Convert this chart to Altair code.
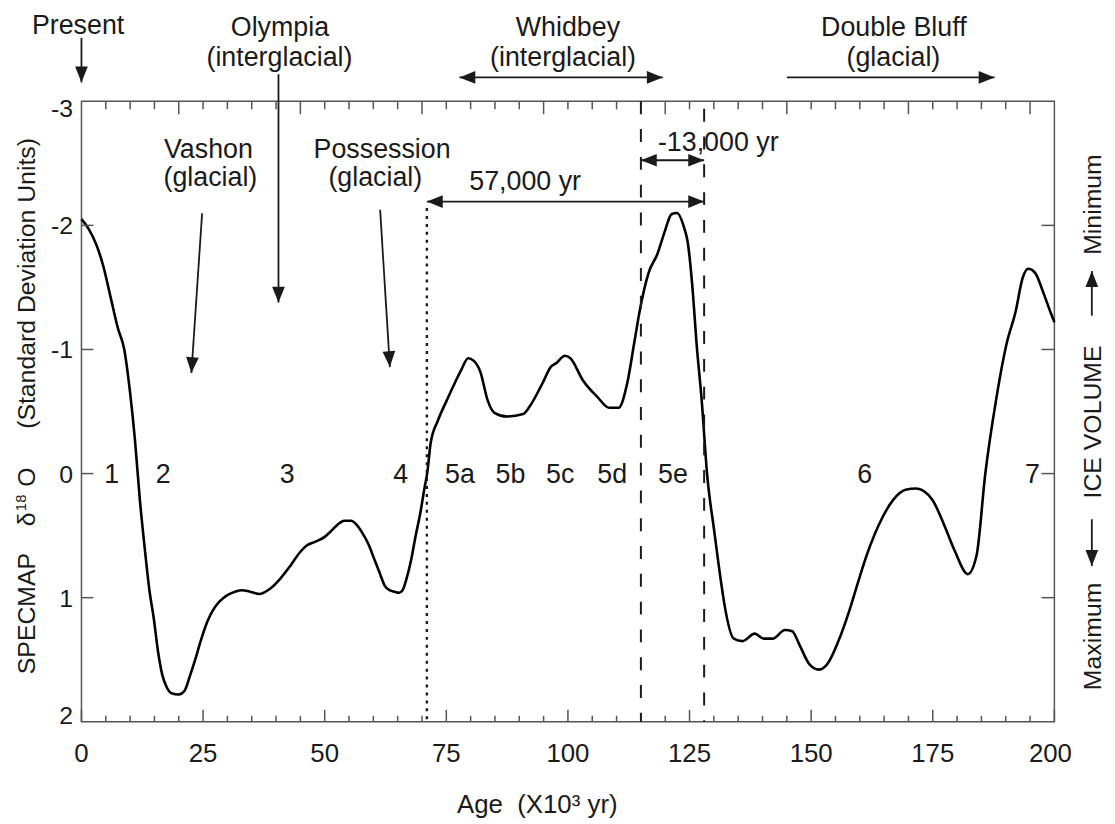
import altair as alt
import pandas as pd

# ---------------- data ----------------
AGE = [0, 1.5, 3, 4.5, 6, 7.5, 8.8, 10, 11, 12, 13, 14, 14.8, 15.8, 16.6, 17.5, 18.5, 20,
       21.2, 22.3, 23.3, 24.5, 25.9, 27.2, 28.4, 30, 31.7, 33, 34.5, 36.5, 38.7, 40.8, 43,
       45, 46.3, 48, 50, 51.4, 52.7, 54, 55.4, 56.5, 57.6, 59, 60.2, 61.3, 62.3, 63.3,
       64.2, 65.3, 66.0, 66.8, 67.8, 68.7, 69.6, 70.5, 71.1, 71.8, 73.3, 75.1, 76.5, 78.0,
       79.5, 80.6, 82.0, 83.5, 84.9, 87.5, 90.8, 92.6, 94.8, 96.5, 97.6, 99.4, 100.5,
       103.1, 106.0, 108.5, 110.4, 112.2, 113.7, 114.8, 116.6, 118.4, 119.9, 121.3, 122.4,
       123.9, 124.6, 125.7, 126.4, 127.5, 128.6, 130.1, 131.5, 132.2, 134.1, 135.9, 138.4,
       140.3, 142.1, 144.6, 146.1, 147.6, 149.7, 151.6, 153.4, 155.6, 157.8, 159.6, 161.4,
       164.7, 166.9, 169.4, 171.6, 174.9, 177.4, 179.6, 182.2, 184.0, 185.8, 188.0, 190.2,
       192.0, 193.5, 194.6, 196.0, 197.8, 199.3, 200]
D18O = [-2.05, -1.97, -1.85, -1.67, -1.42, -1.17, -1.0, -0.65, -0.27, 0.21, 0.60, 0.95, 1.15,
        1.45, 1.62, 1.72, 1.77, 1.78, 1.75, 1.63, 1.51, 1.35, 1.19, 1.09, 1.03, 0.98, 0.95,
        0.94, 0.95, 0.97, 0.93, 0.85, 0.74, 0.63, 0.58, 0.55, 0.51, 0.46, 0.41, 0.38, 0.38,
        0.41, 0.47, 0.57, 0.69, 0.80, 0.90, 0.94, 0.95, 0.96, 0.94, 0.85, 0.69, 0.50, 0.33,
        0.12, -0.01, -0.25, -0.43, -0.59, -0.71, -0.83, -0.93, -0.91, -0.82, -0.59, -0.49,
        -0.46, -0.48, -0.57, -0.73, -0.86, -0.89, -0.95, -0.93, -0.75, -0.62, -0.53, -0.53,
        -0.73, -1.07, -1.32, -1.62, -1.77, -1.95, -2.09, -2.10, -1.98, -1.87, -1.45, -1.07,
        -0.59, 0.0, 0.47, 0.88, 1.06, 1.33, 1.35, 1.29, 1.33, 1.33, 1.26, 1.27, 1.38, 1.54,
        1.58, 1.53, 1.35, 1.11, 0.88, 0.66, 0.35, 0.21, 0.13, 0.12, 0.21, 0.42, 0.63, 0.81,
        0.66, 0.0, -0.59, -1.05, -1.30, -1.58, -1.65, -1.62, -1.45, -1.29, -1.22]
assert len(AGE) == len(D18O)

X_LABELS = [0, 25, 50, 75, 100, 125, 150, 175]
X_LABEL_TEXT = ["0", "25", "50", "75", "100", "125", "150", "175"]
X_LAST_LABEL = [200]
X_LAST_TEXT = ["200"]
Y_LABELS_MID = [-2, -1, 0, 1]
Y_MID_TEXT = ["-2", "-1", "0", "1"]
Y_LABEL_TOP = [-3]
Y_TOP_TEXT = ["-3"]
Y_LABEL_BOTTOM = [2]
Y_BOTTOM_TEXT = ["2"]

BOTTOM_MAJOR = [0, 25, 50, 75, 100, 125, 150, 175, 200]
BOTTOM_MINOR = [5, 10, 15, 20, 30, 35, 40, 45, 55, 60, 65, 70, 80, 85, 90, 95, 105, 110, 115,
                120, 130, 135, 140, 145, 155, 160, 165, 170, 180, 185, 190, 195]
TOP_MAJOR = [20, 45, 70, 95, 120, 145, 170, 195]
TOP_MINOR = [5, 10, 15, 25, 30, 35, 40, 50, 55, 60, 65, 75, 80, 85, 90, 100, 105, 110, 115,
             125, 130, 135, 140, 150, 155, 160, 165, 175, 180, 185, 190]
SIDE_TICKS = [-2, -1, 0, 1]

STAGE_LABELS = ["1", "2", "3", "4", "5a", "5b", "5c", "5d", "5e", "6", "7"]
STAGE_AGE = [6.2, 16.8, 42.3, 65.6, 77.8, 88.2, 98.4, 109.1, 121.6, 161.0, 195.5]
STAGE_BASE = [0.074] * len(STAGE_LABELS)

NOTE_TEXT = ["Present", "Olympia", "(interglacial)", "Whidbey", "(interglacial)",
             "Double Bluff", "(glacial)", "Vashon", "(glacial)", "Possession", "(glacial)",
             "57,000 yr", "-13,000 yr"]
NOTE_X = [-0.7, 40.8, 40.7, 100.0, 99.0, 167.0, 166.9, 26.1, 26.5, 61.8, 60.4, 91.2, 130.9]
NOTE_Y = [-3.54, -3.53, -3.286, -3.53, -3.286, -3.53, -3.286, -2.544, -2.318, -2.544,
          -2.318, -2.286, -2.596]

# arrows (shaft from start to tip) and arrowheads (tip position, pointing angle)
ARROW_X1 = [0, 40.5, 24.8, 61.4, 77.7, 145.0, 71.0, 115.0, 207.7, 207.7]
ARROW_Y1 = [-3.512, -3.218, -2.098, -2.126, -3.192, -3.192, -2.192, -2.525, -1.272, 0.368]
ARROW_X2 = [0, 40.5, 22.6, 63.4, 119.5, 187.7, 128.0, 128.0, 207.7, 207.7]
ARROW_Y2 = [-3.152, -1.378, -0.810, -0.858, -3.192, -3.192, -2.192, -2.525, -1.632, 0.744]
HEAD_X = [0, 40.5, 22.6, 63.4, 77.7, 119.5, 187.7, 71.0, 128.0, 115.0, 128.0, 207.7, 207.7]
HEAD_Y = [-3.152, -1.378, -0.810, -0.858, -3.192, -3.192, -3.192, -2.192, -2.192, -2.525,
          -2.525, -1.632, 0.744]
HEAD_ANGLE = [0, 0, 3.8, 356.4, 90, 270, 270, 90, 270, 90, 270, 180, 0]

DOT_X = [71.0]
DOT_Y1 = [-2.14]
DOT_Y2 = [2.0]
DASH_X = [115.0, 128.0]
DASH_Y1 = [-3.0, -2.94]
DASH_Y2 = [2.0, 2.0]

LEFT_TITLE = ["(Standard Deviation Units)", "O", "\u03b4", "SPECMAP"]
LEFT_TITLE_Y = [-1.532, 0.028, 0.368, 1.128]
RIGHT_TITLE = ["Minimum", "ICE VOLUME", "Maximum"]
RIGHT_TITLE_Y = [-2.168, -0.416, 1.312]

FONT = "Liberation Sans"
INK = "#1a1a1a"
FRAME = "#555555"

W, H = 980, 625
xs = alt.Scale(domain=[0, 200], nice=False, zero=False)
ys = alt.Scale(domain=[-3, 2], reverse=True, nice=False, zero=False)


def X(f):
    return alt.X(f, type="quantitative", scale=xs, axis=None)


def Y(f):
    return alt.Y(f, type="quantitative", scale=ys, axis=None)


# ---------------- main curve ----------------
curve = alt.Chart(pd.DataFrame({"age": AGE, "d": D18O})).mark_line(
    color="black", strokeWidth=2.6, interpolate="monotone"
).encode(x=X("age"), y=Y("d"))

# ---------------- inward ticks ----------------
tick_style = dict(color=FRAME, strokeWidth=1.5)
bmaj = alt.Chart(pd.DataFrame({"t": BOTTOM_MAJOR})).mark_rule(**tick_style).encode(
    x=X("t"), y=alt.value(H), y2=alt.value(H - 12))
bmin = alt.Chart(pd.DataFrame({"t": BOTTOM_MINOR})).mark_rule(**tick_style).encode(
    x=X("t"), y=alt.value(H), y2=alt.value(H - 6))
tmaj = alt.Chart(pd.DataFrame({"t": TOP_MAJOR})).mark_rule(**tick_style).encode(
    x=X("t"), y=alt.value(0), y2=alt.value(13))
tmin = alt.Chart(pd.DataFrame({"t": TOP_MINOR})).mark_rule(**tick_style).encode(
    x=X("t"), y=alt.value(0), y2=alt.value(8))
lt = alt.Chart(pd.DataFrame({"t": SIDE_TICKS})).mark_rule(**tick_style).encode(
    y=Y("t"), x=alt.value(0), x2=alt.value(12))
rt = alt.Chart(pd.DataFrame({"t": SIDE_TICKS})).mark_rule(**tick_style).encode(
    y=Y("t"), x=alt.value(W), x2=alt.value(W - 13))

# ---------------- tick labels (drawn through the scales) ----------------
lab = dict(font=FONT, color=INK, baseline="alphabetic")
xlab = alt.Chart(pd.DataFrame({"v": X_LABELS, "s": X_LABEL_TEXT})).mark_text(
    fontSize=26, align="center", **lab).encode(
    x=X("v"), y=alt.value(H + 41), text="s:N")
xlab_last = alt.Chart(pd.DataFrame({"v": X_LAST_LABEL, "s": X_LAST_TEXT})).mark_text(
    fontSize=26, align="center", dx=-4, **lab).encode(
    x=X("v"), y=alt.value(H + 41), text="s:N")
ylab_mid = alt.Chart(pd.DataFrame({"v": Y_LABELS_MID, "s": Y_MID_TEXT})).mark_text(
    fontSize=25, align="right", dy=9, **lab).encode(
    y=Y("v"), x=alt.value(-8.5), text="s:N")
ylab_top = alt.Chart(pd.DataFrame({"v": Y_LABEL_TOP, "s": Y_TOP_TEXT})).mark_text(
    fontSize=25, align="right", dy=15.5, **lab).encode(
    y=Y("v"), x=alt.value(-8.5), text="s:N")
ylab_bot = alt.Chart(pd.DataFrame({"v": Y_LABEL_BOTTOM, "s": Y_BOTTOM_TEXT})).mark_text(
    fontSize=25, align="right", dy=2.5, **lab).encode(
    y=Y("v"), x=alt.value(-8.5), text="s:N")

# ---------------- reference lines ----------------
dotted = alt.Chart(pd.DataFrame({"x": DOT_X, "y1": DOT_Y1, "y2": DOT_Y2})).mark_rule(
    color=INK, strokeWidth=2.4, strokeDash=[3, 5]).encode(x=X("x"), y=Y("y1"), y2="y2:Q")
dashed = alt.Chart(pd.DataFrame({"x": DASH_X, "y1": DASH_Y1, "y2": DASH_Y2})).mark_rule(
    color=INK, strokeWidth=2, strokeDash=[13, 15]).encode(x=X("x"), y=Y("y1"), y2="y2:Q")

# ---------------- arrows ----------------
shafts = alt.Chart(pd.DataFrame({"x1": ARROW_X1, "y1": ARROW_Y1, "x2": ARROW_X2,
                                 "y2": ARROW_Y2})).mark_rule(
    color=INK, strokeWidth=1.8).encode(x=X("x1"), y=Y("y1"), x2="x2:Q", y2="y2:Q")
heads = alt.Chart(pd.DataFrame({"x": HEAD_X, "y": HEAD_Y, "a": HEAD_ANGLE})).mark_point(
    shape="M0,0L-0.8,-2L0.8,-2Z", filled=True, size=256, color=INK, opacity=1, strokeWidth=0
).encode(x=X("x"), y=Y("y"), angle=alt.Angle("a:Q", scale=None))

# ---------------- text ----------------
txt = dict(font=FONT, color=INK, baseline="alphabetic", align="center")
stages = alt.Chart(pd.DataFrame({"x": STAGE_AGE, "y": STAGE_BASE, "s": STAGE_LABELS})).mark_text(
    fontSize=27, **txt).encode(x=X("x"), y=Y("y"), text="s:N")
notes = alt.Chart(pd.DataFrame({"x": NOTE_X, "y": NOTE_Y, "s": NOTE_TEXT})).mark_text(
    fontSize=27, **txt).encode(x=X("x"), y=Y("y"), text="s:N")
xtitle = alt.Chart(pd.DataFrame({"x": [93.7], "y": [2.734], "s": ["Age\u00a0 (X10\u00b3 yr)"]})
                   ).mark_text(fontSize=26, **txt).encode(x=X("x"), y=Y("y"), text="s:N")
ltitle = alt.Chart(pd.DataFrame({"x": [-9.49] * 4, "y": LEFT_TITLE_Y, "s": LEFT_TITLE})).mark_text(
    fontSize=25, angle=270, **txt).encode(x=X("x"), y=Y("y"), text="s:N")
lsup = alt.Chart(pd.DataFrame({"x": [-11.4], "y": [0.236], "s": ["18"]})).mark_text(
    fontSize=15, angle=270, **txt).encode(x=X("x"), y=Y("y"), text="s:N")
rtitle = alt.Chart(pd.DataFrame({"x": [209.6] * 3, "y": RIGHT_TITLE_Y, "s": RIGHT_TITLE})).mark_text(
    fontSize=25, angle=270, **txt).encode(x=X("x"), y=Y("y"), text="s:N")

chart = alt.layer(
    curve, bmaj, bmin, tmaj, tmin, lt, rt, xlab, xlab_last, ylab_mid, ylab_top, ylab_bot,
    dotted, dashed, shafts, heads, stages, notes, xtitle, ltitle, lsup, rtitle
).properties(
    width=W, height=H,
    padding={"left": 74, "top": 91, "right": 53, "bottom": 100},
    autosize=alt.AutoSizeParams(type="none"),
    background="white",
).configure_view(stroke=FRAME, strokeWidth=1.5)

chart.save("out.html", embed_options={"renderer": "svg", "actions": False})
